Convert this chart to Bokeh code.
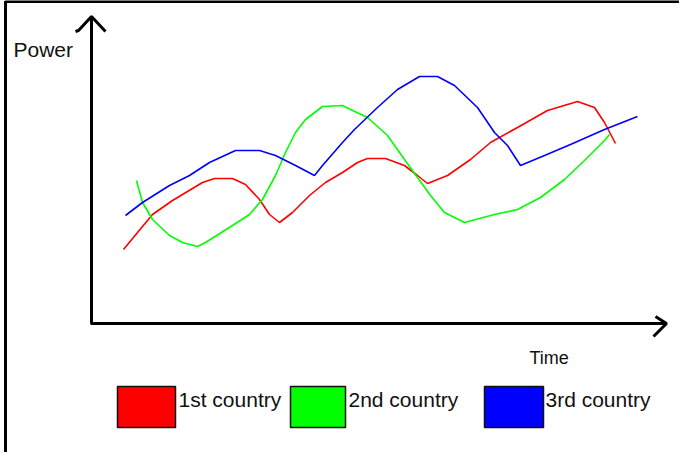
from bokeh.plotting import figure
from bokeh.models import Range1d
from bokeh.core.properties import value
from bokeh.embed import file_html
from bokeh.resources import INLINE

# ---- data (Time, Power) ----
red_time = [33, 47, 62, 82, 102, 112, 124, 142, 155, 169, 179, 189, 202, 219, 235, 252,
            267, 277, 295, 314, 327, 337, 357, 380, 400, 427, 457, 487, 504, 514, 525]
red_power = [74, 91, 109, 123, 135, 141, 145, 145, 139, 124, 109, 101, 111, 128, 141, 151,
             161, 165, 165, 158, 148, 140, 148, 164, 181, 196, 213, 222, 216, 201, 180]

green_time = [46, 52, 62, 79, 92, 107, 115, 142, 159, 172, 185, 195, 205, 215, 232, 252,
              260, 277, 297, 314, 327, 340, 354, 374, 404, 427, 450, 474, 494, 514, 519]
green_power = [143, 121, 104, 88, 81, 77, 81, 98, 109, 124, 148, 171, 191, 204, 217, 218,
               214, 206, 188, 164, 146, 128, 111, 101, 109, 114, 126, 144, 163, 183, 189]

blue_time = [35, 52, 79, 99, 119, 145, 169, 185, 205, 224, 232, 252, 264, 287, 307, 329,
             347, 364, 387, 404, 417, 430, 454, 480, 514, 547]
blue_power = [108, 121, 138, 148, 161, 173, 173, 168, 158, 148, 158, 181, 194, 216, 234, 247,
              247, 238, 216, 191, 178, 158, 168, 179, 194, 207]

series_names = ["1st country", "2nd country", "3rd country"]
series_colors = ["#FF0000", "#00FF00", "#0000FF"]
x_label = "Time"
y_label = "Power"

W, H = 679, 452
# helpers converting picture pixels to data space (decoration only)
def dx(ix):
    return ix - 98
def dy(iy):
    return 331 - iy

p = figure(width=W, height=H, output_backend="svg", toolbar_location=None,
           x_range=Range1d(dx(8), dx(8 + W)), y_range=Range1d(dy(8 + H), dy(8)),
           min_border=0, background_fill_color="white", border_fill_color="white")
p.xaxis.visible = False
p.yaxis.visible = False
p.grid.visible = False
p.outline_line_color = None

FONT = value("Liberation Sans")

# outer frame (left and top)
p.line([dx(13), dx(13), dx(700)], [dy(470), dy(9), dy(9)], line_color="black", line_width=3)

# axes with arrows
p.line([dx(99), dx(99)], [dy(331), dy(24)], line_color="black", line_width=3)
p.line([dx(83), dx(86), dx(99), dx(113)], [dy(39), dy(38), dy(24), dy(39)],
       line_color="black", line_width=3)
p.line([dx(98), dx(673)], [dy(331), dy(331)], line_color="black", line_width=3)
p.line([dx(663), dx(674), dx(664), dx(661)], [dy(324), dy(331), dy(341), dy(344)],
       line_color="black", line_width=3)

# series
for t, pw, c in [(red_time, red_power, series_colors[0]),
                 (green_time, green_power, series_colors[1]),
                 (blue_time, blue_power, series_colors[2])]:
    p.line(t, pw, line_color=c, line_width=1.6)

# axis labels
p.text([dx(21)], [dy(57)], text=[y_label], text_font=FONT, text_font_size="21px",
       text_color="#111111", text_align="left", text_baseline="alphabetic")
p.text([dx(537)], [dy(365)], text=[x_label], text_font=FONT, text_font_size="18px",
       text_color="#111111", text_align="left", text_baseline="alphabetic")

# legend
boxes = [(125, 183), (298, 353), (492, 551)]
labels_x = [186, 356, 553]
for (l, r), c, name, lx in zip(boxes, series_colors, series_names, labels_x):
    p.quad(left=[dx(l)], right=[dx(r)], top=[dy(394)], bottom=[dy(435)],
           fill_color=c, line_color="#111111", line_width=1.5)
    p.text([dx(lx)], [dy(407)], text=[name], text_font=FONT, text_font_size="21px",
           text_color="#111111", text_align="left", text_baseline="alphabetic")

open("out.html", "w").write(file_html(p, INLINE))
